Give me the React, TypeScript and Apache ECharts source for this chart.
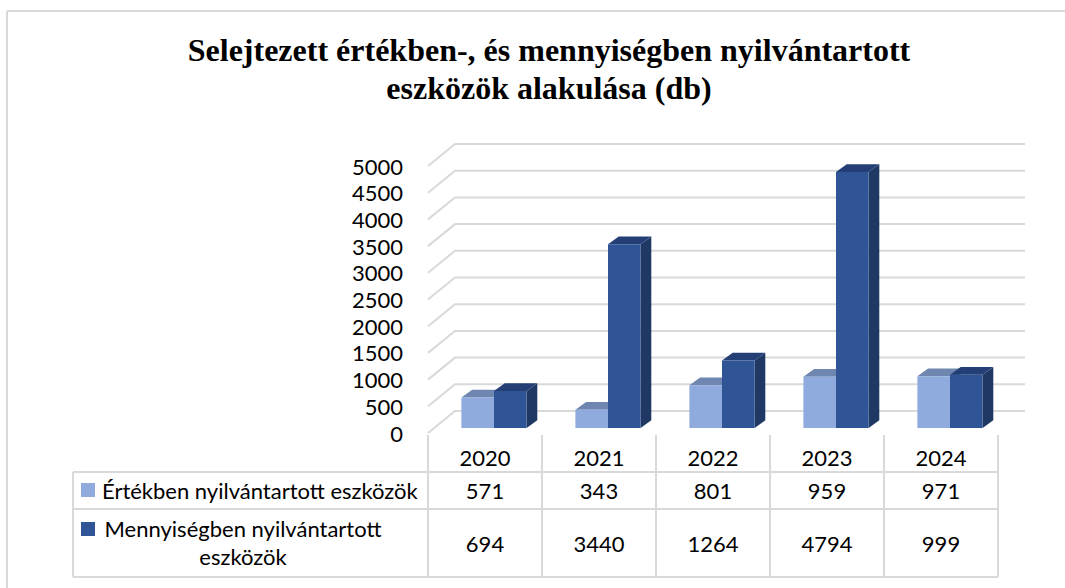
import React, { useEffect, useRef } from "react";
import * as echarts from "echarts";

const years = ["2020", "2021", "2022", "2023", "2024"];
const ertekben = [571, 343, 801, 959, 971];
const mennyisegben = [694, 3440, 1264, 4794, 999];
const yTicks = [0, 500, 1000, 1500, 2000, 2500, 3000, 3500, 4000, 4500, 5000];
const seriesNames = [
  "Értékben nyilvántartott eszközök",
  "Mennyiségben nyilvántartott\neszközök",
];
const titleText = "Selejtezett értékben-, és mennyiségben nyilvántartott\neszközök alakulása (db)";

const FONT = "Lato";
const FS = 22;
const GRID_COLOR = "#D9D9D9";
const DEPTH_X = 27;
const DEPTH_Y = -22;
const BAR_DX = 10.7;
const BAR_DY = -7.7;
const BAR_SHIFT_X = 9;
const BAR_SHIFT_Y = -5;
const COLORS = [
  { front: "#8FAADC", top: "#6F87B0", side: "#5F77A3" },
  { front: "#2F5597", top: "#233F75", side: "#1F3864" },
];

function barRender(s: number) {
  return (params: any, api: any) => {
    const idx = api.value(0);
    const c0 = api.coord([idx, 0]);
    const c1 = api.coord([idx, api.value(1)]);
    const band = api.size([1, 0])[0];
    const w = band * 0.286;
    const cx = c0[0] + BAR_SHIFT_X;
    const x0 = s === 0 ? cx - w : cx;
    const y0 = c0[1] + BAR_SHIFT_Y;
    const y1 = c1[1] + BAR_SHIFT_Y;
    const col = COLORS[s];
    return {
      type: "group",
      children: [
        {
          type: "polygon",
          shape: {
            points: [
              [x0 + w, y1],
              [x0 + w + BAR_DX, y1 + BAR_DY],
              [x0 + w + BAR_DX, y0 + BAR_DY],
              [x0 + w, y0],
            ],
          },
          style: { fill: col.side },
        },
        {
          type: "polygon",
          shape: {
            points: [
              [x0, y1],
              [x0 + w, y1],
              [x0 + w + BAR_DX, y1 + BAR_DY],
              [x0 + BAR_DX, y1 + BAR_DY],
            ],
          },
          style: { fill: col.top },
        },
        {
          type: "rect",
          shape: { x: x0, y: y1, width: w, height: y0 - y1 },
          style: { fill: col.front },
        },
      ],
    };
  };
}

export default function App() {
  const ref = useRef<HTMLDivElement>(null);
  useEffect(() => {
    if (!ref.current) return;
    const chart = echarts.init(ref.current, null, { renderer: "svg" });
    const n = years.length;
    const option: any = {
      animation: false,
      backgroundColor: "#FFFFFF",
      title: {
        text: titleText,
        left: 544,
        top: 26,
        textAlign: "center",
        textStyle: {
          fontFamily: "Liberation Serif",
          fontWeight: "bold",
          fontSize: 32,
          lineHeight: 38,
          color: "#000000",
        },
      },
      grid: { left: 428, top: 166, width: 570, height: 267, containLabel: false },
      xAxis: {
        type: "category",
        data: years,
        axisLine: { show: false },
        axisTick: { show: false },
        splitLine: { show: false },
        axisLabel: {
          margin: 24,
          verticalAlign: "middle",
          fontFamily: FONT,
          fontSize: FS,
          color: "#000000",
        },
      },
      yAxis: {
        type: "value",
        min: 0,
        max: 5000,
        interval: 500,
        axisLine: { show: false },
        axisTick: { show: false },
        splitLine: { show: false },
        axisLabel: {
          margin: 25,
          fontFamily: FONT,
          fontSize: FS,
          color: "#000000",
          formatter: (v: number) => String(v),
        },
      },
      series: [
        {
          type: "custom",
          name: "grid",
          silent: true,
          z: 1,
          data: yTicks.map((t) => [0, t]),
          renderItem: (params: any, api: any) => {
            const cs = params.coordSys;
            const y = api.coord([0, api.value(1)])[1];
            return {
              type: "polyline",
              shape: {
                points: [
                  [cs.x, y],
                  [cs.x + DEPTH_X, y + DEPTH_Y],
                  [cs.x + cs.width + DEPTH_X, y + DEPTH_Y],
                ],
              },
              style: { stroke: GRID_COLOR, lineWidth: 2, fill: null },
            };
          },
        },
        {
          type: "custom",
          name: "Értékben nyilvántartott eszközök",
          z: 3,
          data: ertekben.map((v, i) => [i, v]),
          renderItem: barRender(0),
        },
        {
          type: "custom",
          name: "Mennyiségben nyilvántartott eszközök",
          z: 4,
          data: mennyisegben.map((v, i) => [i, v]),
          renderItem: barRender(1),
        },
        {
          type: "custom",
          name: "table",
          silent: true,
          z: 2,
          data: years.map((_, i) => [i, 0, ertekben[i], mennyisegben[i]]),
          renderItem: (params: any, api: any) => {
            const idx = api.value(0);
            const c = api.coord([idx, 0]);
            const band = api.size([1, 0])[0];
            const left = c[0] - band / 2;
            const children: any[] = [
              {
                type: "line",
                shape: { x1: left, y1: 435, x2: left, y2: 577 },
                style: { stroke: GRID_COLOR, lineWidth: 2 },
              },
              {
                type: "text",
                x: c[0],
                y: 490,
                style: {
                  text: String(api.value(2)),
                  fontFamily: FONT,
                  fontSize: FS,
                  fill: "#000000",
                  align: "center",
                  verticalAlign: "middle",
                },
              },
              {
                type: "text",
                x: c[0],
                y: 543,
                style: {
                  text: String(api.value(3)),
                  fontFamily: FONT,
                  fontSize: FS,
                  fill: "#000000",
                  align: "center",
                  verticalAlign: "middle",
                },
              },
            ];
            if (idx === n - 1) {
              children.push({
                type: "line",
                shape: { x1: left + band, y1: 435, x2: left + band, y2: 577 },
                style: { stroke: GRID_COLOR, lineWidth: 2 },
              });
            }
            return { type: "group", children };
          },
        },
      ],
      graphic: [
        { type: "line", shape: { x1: 7, y1: 11, x2: 1065, y2: 11 }, style: { stroke: GRID_COLOR, lineWidth: 2 } },
        { type: "line", shape: { x1: 7, y1: 11, x2: 7, y2: 588 }, style: { stroke: GRID_COLOR, lineWidth: 2 } },
        { type: "line", shape: { x1: 73, y1: 472, x2: 998, y2: 472 }, style: { stroke: GRID_COLOR, lineWidth: 2 } },
        { type: "line", shape: { x1: 73, y1: 509, x2: 998, y2: 509 }, style: { stroke: GRID_COLOR, lineWidth: 2 } },
        { type: "line", shape: { x1: 73, y1: 577, x2: 998, y2: 577 }, style: { stroke: GRID_COLOR, lineWidth: 2 } },
        { type: "line", shape: { x1: 73, y1: 472, x2: 73, y2: 577 }, style: { stroke: GRID_COLOR, lineWidth: 2 } },
        { type: "rect", shape: { x: 81, y: 483, width: 14, height: 14 }, style: { fill: COLORS[0].front } },
        { type: "rect", shape: { x: 81, y: 522, width: 14, height: 14 }, style: { fill: COLORS[1].front } },
        {
          type: "text",
          x: 102,
          y: 490,
          style: {
            text: seriesNames[0],
            fontFamily: FONT,
            fontSize: FS,
            fill: "#000000",
            align: "left",
            verticalAlign: "middle",
          },
        },
        {
          type: "text",
          x: 243,
          y: 542,
          style: {
            text: seriesNames[1],
            fontFamily: FONT,
            fontSize: FS,
            lineHeight: 28,
            fill: "#000000",
            align: "center",
            verticalAlign: "middle",
          },
        },
      ],
    };
    chart.setOption(option);
    return () => chart.dispose();
  }, []);
  return (
    <div
      ref={ref}
      style={{ position: "fixed", left: 0, top: 0, width: 1065, height: 588, background: "#fff" }}
    />
  );
}
